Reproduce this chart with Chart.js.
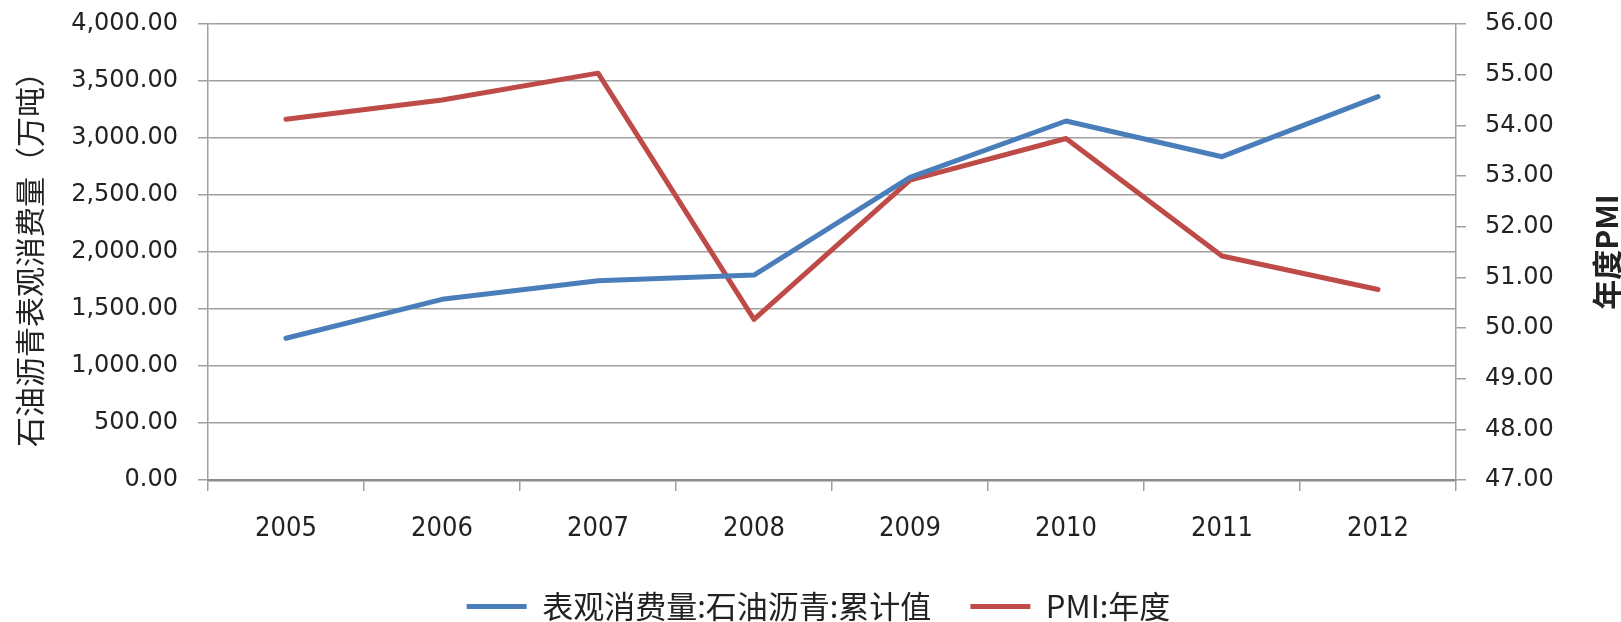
<!DOCTYPE html>
<html>
<head>
<meta charset="utf-8">
<title>石油沥青表观消费量与PMI</title>
<script src="https://cdn.jsdelivr.net/npm/chart.js@4.4.1/dist/chart.umd.min.js"></script>
<style>
    html, body { margin: 0; padding: 0; background: #ffffff; }
    canvas { display: block; }
</style>
</head>
<body>
<canvas id="myLineChart" width="1621" height="622"></canvas>
<script>
// Dados
var anos = ['2005', '2006', '2007', '2008', '2009', '2010', '2011', '2012'];
var consumoAsfalto = [1243, 1585, 1748, 1798, 2655, 3149, 2836, 3363]; // 万吨
var pmiAnual = [54.12, 54.50, 55.03, 50.17, 52.92, 53.74, 51.42, 50.76];

var nomeConsumo = '表观消费量:石油沥青:累计值';
var nomePmi = 'PMI:年度';
var tituloEsquerda = '石油沥青表观消费量（万吨）';
var tituloDireita = '年度PMI';

var eixoEsquerda = { min: 0, max: 4000, passo: 500 };
var eixoDireita = { min: 47, max: 56, passo: 1 };

var corAzul = '#4A7EBB';
var corVermelha = '#BE4B48';
var corGrade = '#a0a0a0';
var corTexto = '#222222';

// Titulo do eixo direito lido de baixo para cima, como no original
var tituloDireitaPlugin = {
    id: 'tituloDireita',
    afterDraw: function(chart) {
        var s = chart.scales.y1;
        var c = chart.ctx;
        c.save();
        c.translate(s.right - 14, (s.top + s.bottom) / 2);
        c.rotate(-Math.PI / 2);
        c.fillStyle = corTexto;
        c.font = 'bold 30px "Noto Sans CJK SC", sans-serif';
        c.textAlign = 'center';
        c.textBaseline = 'middle';
        c.fillText(tituloDireita, 0, 0);
        c.restore();
    }
};

// Ajusta a posição da legenda (um pouco mais para baixo e para a direita)
var legendaPlugin = {
    id: 'legendaAjuste',
    afterLayout: function(chart) {
        chart.legend.top += 10;
        chart.legend.bottom += 10;
        chart.legend.left += 8;
        chart.legend.right += 8;
    }
};

// Largura fixa do eixo e sem folga extra em cima/embaixo
function fixarEixoY(largura) {
    return function(scale) {
        scale.width = largura;
        scale.paddingTop = 10;
        scale.paddingBottom = 10;
    };
}

var ctx = document.getElementById('myLineChart').getContext('2d');
var chart = new Chart(ctx, {
    type: 'line',
    data: {
        labels: anos,
        datasets: [
            {
                label: nomeConsumo,
                data: consumoAsfalto,
                yAxisID: 'y',
                borderColor: corAzul,
                backgroundColor: corAzul,
                borderWidth: 5,
                borderCapStyle: 'round',
                borderJoinStyle: 'round',
                pointRadius: 0,
                tension: 0,
                fill: false
            },
            {
                label: nomePmi,
                data: pmiAnual,
                yAxisID: 'y1',
                borderColor: corVermelha,
                backgroundColor: corVermelha,
                borderWidth: 5,
                borderCapStyle: 'round',
                borderJoinStyle: 'round',
                pointRadius: 0,
                tension: 0,
                fill: false
            }
        ]
    },
    options: {
        responsive: false,
        devicePixelRatio: 1,
        animation: false,
        layout: {
            padding: { top: 24, left: 0, right: 0, bottom: 0 }
        },
        scales: {
            x: {
                offset: true,
                grid: {
                    offset: true,
                    drawOnChartArea: false,
                    color: corGrade,
                    lineWidth: 1.5,
                    tickLength: 11
                },
                border: { color: '#8c8c8c', width: 2.5 },
                ticks: {
                    color: corTexto,
                    padding: 22,
                    font: { family: '"DejaVu Sans Condensed", "DejaVu Sans", sans-serif', size: 27 }
                },
                afterFit: function(scale) { scale.height = 62; }
            },
            y: {
                position: 'left',
                min: eixoEsquerda.min,
                max: eixoEsquerda.max,
                grid: { color: corGrade, lineWidth: 1.5, tickLength: 10 },
                border: { color: corGrade, width: 1.5 },
                ticks: {
                    stepSize: eixoEsquerda.passo,
                    color: corTexto,
                    padding: 20,
                    font: { family: '"DejaVu Sans", sans-serif', size: 24 },
                    callback: function(v) {
                        return v.toLocaleString('en-US', { minimumFractionDigits: 2, maximumFractionDigits: 2 });
                    }
                },
                title: {
                    display: true,
                    text: tituloEsquerda,
                    color: corTexto,
                    padding: { top: 12, bottom: 0 },
                    font: { family: '"Noto Sans CJK SC", sans-serif', size: 30 }
                },
                afterFit: fixarEixoY(208)
            },
            y1: {
                position: 'right',
                min: eixoDireita.min,
                max: eixoDireita.max,
                grid: { drawOnChartArea: false, color: corGrade, lineWidth: 1.5, tickLength: 10 },
                border: { color: corGrade, width: 1.5 },
                ticks: {
                    stepSize: eixoDireita.passo,
                    color: corTexto,
                    padding: 19,
                    font: { family: '"DejaVu Sans", sans-serif', size: 24 },
                    callback: function(v) { return v.toFixed(2); }
                },
                afterFit: fixarEixoY(165)
            }
        },
        plugins: {
            legend: {
                position: 'bottom',
                labels: {
                    boxWidth: 60,
                    boxHeight: 5,
                    padding: 39,
                    color: corTexto,
                    font: { family: '"Noto Sans CJK SC", sans-serif', size: 31 },
                    generateLabels: function(ch) {
                        var itens = Chart.defaults.plugins.legend.labels.generateLabels(ch);
                        itens.forEach(function(it) { it.lineWidth = 0; });
                        return itens;
                    }
                }
            },
            tooltip: { enabled: false }
        }
    },
    plugins: [tituloDireitaPlugin, legendaPlugin]
});
</script>
</body>
</html>
